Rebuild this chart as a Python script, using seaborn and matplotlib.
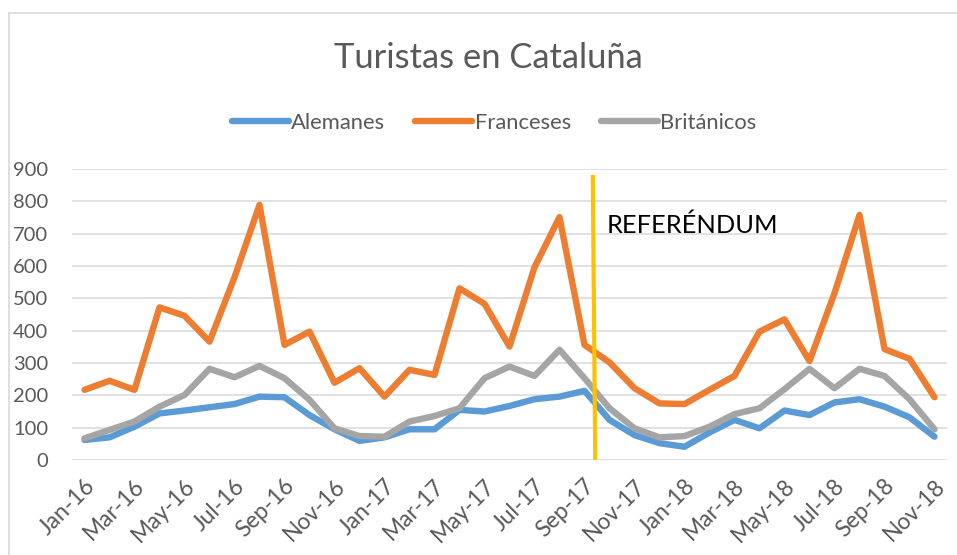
import pandas as pd
import seaborn as sns
import matplotlib.pyplot as plt
import numpy as np
from matplotlib.patches import Rectangle
from matplotlib.transforms import ScaledTranslation

# datos (miles de turistas)
meses = ["Jan-16", "Feb-16", "Mar-16", "Apr-16", "May-16", "Jun-16", "Jul-16", "Aug-16", "Sep-16", "Oct-16", "Nov-16", "Dec-16",
         "Jan-17", "Feb-17", "Mar-17", "Apr-17", "May-17", "Jun-17", "Jul-17", "Aug-17", "Sep-17", "Oct-17", "Nov-17", "Dec-17",
         "Jan-18", "Feb-18", "Mar-18", "Apr-18", "May-18", "Jun-18", "Jul-18", "Aug-18", "Sep-18", "Oct-18", "Nov-18"]
alemanes = [62, 70, 103, 144, 153, 163, 173, 196, 194, 139, 95, 59,
            70, 95, 95, 155, 150, 167, 188, 196, 214, 124, 77, 52,
            41, 85, 124, 98, 153, 139, 178, 188, 165, 132, 72]
franceses = [217, 245, 217, 472, 446, 366, 565, 789, 356, 397, 239, 284,
             196, 279, 263, 531, 483, 351, 596, 751, 356, 302, 222, 175,
             173, 217, 260, 397, 435, 306, 516, 758, 343, 313, 194]
britanicos = [67, 93, 119, 165, 201, 282, 256, 291, 253, 186, 98, 74,
              72, 119, 136, 160, 253, 289, 260, 341, 253, 160, 98, 70,
              74, 103, 142, 160, 219, 282, 222, 282, 260, 188, 95]
series = ["Alemanes", "Franceses", "Británicos"]
colores = ["#5B9BD5", "#ED7D31", "#A5A5A5"]
yticks = [0, 100, 200, 300, 400, 500, 600, 700, 800, 900]
referendum_x = [20.33, 20.43]
referendum_y = [882, 0]

sns.set_theme(style="white")
plt.rcParams['font.family'] = ['Lato', 'DejaVu Sans']

idx = np.arange(len(meses))
df = pd.DataFrame({"mes": np.tile(idx, 3),
                   "valor": alemanes + franceses + britanicos,
                   "serie": np.repeat(series, len(meses))})

fig = plt.figure(figsize=(9.57, 5.55), dpi=100)
ax = fig.add_axes([72/957, 1-460/555, 875/957, 291/555])

sns.lineplot(data=df, x="mes", y="valor", hue="serie", hue_order=series,
             palette=colores, linewidth=4.6, ax=ax, legend=False,
             solid_capstyle="round", solid_joinstyle="round")

ax.set_xlim(-0.5, len(meses) - 0.5)
ax.set_ylim(0, 900)
ax.set_yticks(yticks)
ax.set_xticks(idx[::2])
ax.tick_params(axis="both", length=0, labelcolor="#595959")
ax.tick_params(axis="y", pad=17, labelsize=14.5)
ax.tick_params(axis="x", pad=11, labelsize=16.5)
ax.set_xticklabels(meses[::2], rotation=45, ha="right", va="top", rotation_mode="anchor")
off = ScaledTranslation(-0.5/100, 0, fig.dpi_scale_trans)
for lab in ax.get_xticklabels():
    lab.set_transform(lab.get_transform() + off)
ax.set_xlabel("")
ax.set_ylabel("")
ax.grid(axis="y", color="#D9D9D9", linewidth=1.1)
ax.set_axisbelow(True)
for s in ax.spines.values():
    s.set_visible(False)

# linea del referendum
ax.plot(referendum_x, referendum_y, color="#FFC000", linewidth=3, solid_capstyle="butt", zorder=5)
ax.text(20.9, 727, "REFERÉNDUM", fontsize=18.3, color="black", va="center", ha="left")

fig.text(488.5/957, 1-68/555, "Turistas en Cataluña", fontsize=24.8, color="#595959",
         ha="center", va="baseline")

handles = [plt.Line2D([], [], color=c, linewidth=4.6, solid_capstyle="round") for c in colores]
leg = fig.legend(handles, series, loc="center", bbox_to_anchor=(494/957, 1-123/555), ncol=3,
                 frameon=False, fontsize=15.8, handlelength=2.6, handletextpad=0.12,
                 columnspacing=1.35)
for t in leg.get_texts():
    t.set_color("#595959")

fig.patches.append(Rectangle((9/957, -0.1), 1.2, 1.1 - 13/555, transform=fig.transFigure,
                             fill=False, edgecolor="#D9D9D9", linewidth=1.2))

fig.savefig("out.png", dpi=100)
